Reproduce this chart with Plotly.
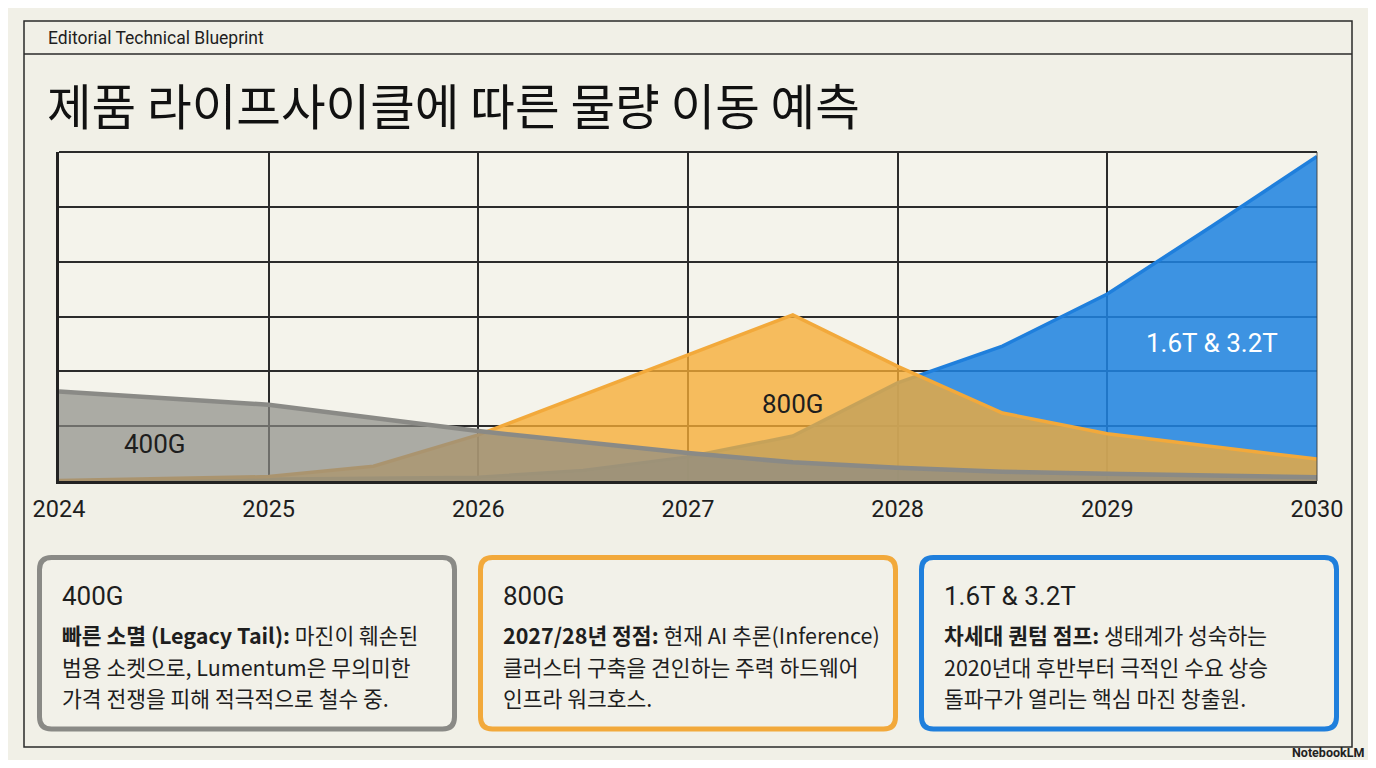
import plotly.graph_objects as go

# the page body has an 8px margin, so the figure is sized to fit inside the window
OFF = 8
W, H = 1376 - 2 * OFF, 768 - 2 * OFF

# ---- data ----
years_tick = [2024, 2025, 2026, 2027, 2028, 2029, 2030]
tick_labels = ["2024", "2025", "2026", "2027", "2028", "2029", "2030"]

x_400g = [2024, 2025, 2025.75, 2026, 2027, 2027.5, 2028, 2028.5, 2029, 2030]
y_400g = [16.3, 13.9, 10.3, 9.1, 5.1, 3.4, 2.4, 1.7, 1.3, 0.7]

x_800g = [2024, 2025, 2025.5, 2026, 2027.5, 2028, 2028.5, 2029, 2030]
y_800g = [0.1, 0.8, 2.7, 8.4, 30.3, 20.9, 12.4, 8.6, 4.0]

x_16t = [2024, 2026, 2026.5, 2027, 2027.5, 2028, 2028.5, 2029, 2029.5, 2030]
y_16t = [0.0, 0.7, 1.9, 4.4, 8.2, 17.9, 24.6, 34.1, 46.5, 59.2]

series_names = ["400G", "800G", "1.6T & 3.2T"]

card_titles = ["400G", "800G", "1.6T & 3.2T"]
card_bold = ["빠른 소멸 (Legacy Tail):", "2027/28년 정점:", "차세대 퀀텀 점프:"]
card_lines = [
    [" 마진이 훼손된", "범용 소켓으로, Lumentum은 무의미한", "가격 전쟁을 피해 적극적으로 철수 중."],
    [" 현재 AI 추론(Inference)", "클러스터 구축을 견인하는 주력 하드웨어", "인프라 워크호스."],
    [" 생태계가 성숙하는", "2020년대 후반부터 극적인 수요 상승", "돌파구가 열리는 핵심 마진 창출원."],
]

FONT = "Roboto, 'Noto Sans CJK KR', sans-serif"
KFONT = "'Noto Sans CJK KR', Roboto, sans-serif"
BG = "#f1f0e7"
INK = "#1e1e1e"
C_GRAY, C_ORANGE, C_BLUE = "#8a8a86", "#f2a93b", "#1f7fdc"


def px(x):
    return (x - OFF) / W


def py(y):
    return 1 - (y - OFF) / H


fig = go.Figure()
fig.add_trace(go.Scatter(x=x_16t, y=y_16t, name=series_names[2], mode="lines",
                         line=dict(color=C_BLUE, width=3.5), fill="tozeroy",
                         fillcolor="rgba(30,130,225,0.86)"))
fig.add_trace(go.Scatter(x=x_800g, y=y_800g, name=series_names[1], mode="lines",
                         line=dict(color=C_ORANGE, width=3.5), fill="tozeroy",
                         fillcolor="rgba(246,172,52,0.78)"))
fig.add_trace(go.Scatter(x=x_400g, y=y_400g, name=series_names[0], mode="lines",
                         line=dict(color=C_GRAY, width=4.5), fill="tozeroy",
                         fillcolor="rgba(140,140,134,0.70)"))

# in-chart labels
fig.add_annotation(x=2024.46, y=6.8, text="400G", showarrow=False,
                   font=dict(family=FONT, size=26, color=INK))
fig.add_annotation(x=2027.5, y=14.1, text="800G", showarrow=False,
                   font=dict(family=FONT, size=26, color=INK))
fig.add_annotation(x=2029.5, y=25.2, text="1.6T & 3.2T", showarrow=False,
                   font=dict(family=FONT, size=26, color="white"))

shapes = []
# outer frame and header rule
shapes.append(dict(type="rect", xref="paper", yref="paper", x0=px(24), x1=px(1352), y0=py(747), y1=py(21),
                   line=dict(color="#2a2a2a", width=1.5), fillcolor="rgba(0,0,0,0)", layer="below"))
shapes.append(dict(type="line", xref="paper", yref="paper", x0=px(24), x1=px(1352), y0=py(54), y1=py(54),
                   line=dict(color="#2a2a2a", width=1.5)))
# top and right edges of the plotting frame
shapes.append(dict(type="line", xref="x domain", yref="y domain", x0=0, x1=1, y0=1, y1=1,
                   line=dict(color="#2b2b2b", width=2)))
shapes.append(dict(type="line", xref="x domain", yref="y domain", x0=1, x1=1, y0=0, y1=1,
                   line=dict(color="rgba(60,60,60,0.6)", width=1.5)))


def rounded(x0, y0, x1, y1, r):
    X0, X1 = px(x0), px(x1)
    Y0, Y1 = py(y0), py(y1)
    rx, ry = r / W, r / H
    return (f"M {X0+rx},{Y0} L {X1-rx},{Y0} Q {X1},{Y0} {X1},{Y0-ry} "
            f"L {X1},{Y1+ry} Q {X1},{Y1} {X1-rx},{Y1} L {X0+rx},{Y1} "
            f"Q {X0},{Y1} {X0},{Y1+ry} L {X0},{Y0-ry} Q {X0},{Y0} {X0+rx},{Y0} Z")


card_x = [37, 478, 919]
card_w = 420
card_colors = [C_GRAY, C_ORANGE, C_BLUE]
for i in range(3):
    x0 = card_x[i] + 2.5
    x1 = card_x[i] + card_w - 2.5
    shapes.append(dict(type="path", xref="paper", yref="paper", path=rounded(x0, 557.5, x1, 729, 12),
                       line=dict(color=card_colors[i], width=5), fillcolor="#f2f1e9"))
    tx = px(card_x[i] + 23)
    fig.add_annotation(xref="paper", yref="paper", x=tx, y=py(596), xanchor="left", yanchor="middle",
                       text=card_titles[i], showarrow=False, font=dict(family=FONT, size=26, color=INK))
    fig.add_annotation(xref="paper", yref="paper", x=tx, y=py(634), xanchor="left", yanchor="middle",
                       text=f"<b>{card_bold[i]}</b>{card_lines[i][0]}", showarrow=False,
                       font=dict(family=KFONT, size=21.5, color=INK))
    for j, ln in enumerate(card_lines[i][1:]):
        fig.add_annotation(xref="paper", yref="paper", x=tx, y=py(666 + 31.5 * j), xanchor="left",
                           yanchor="middle", text=ln, showarrow=False,
                           font=dict(family=KFONT, size=21.5, color=INK))

# header texts
fig.add_annotation(xref="paper", yref="paper", x=px(46), y=py(38), xanchor="left", yanchor="middle",
                   text="Editorial Technical Blueprint", showarrow=False,
                   font=dict(family=FONT, size=17.5, color=INK))
fig.add_annotation(xref="paper", yref="paper", x=px(45), y=py(104), xanchor="left", yanchor="middle",
                   text="제품 라이프사이클에 따른 물량 이동 예측", showarrow=False,
                   font=dict(family=KFONT, size=48.5, color="#111111"))
fig.add_annotation(xref="paper", yref="paper", x=px(1366), y=py(752), xanchor="right", yanchor="middle",
                   text="<b>NotebookLM</b>", showarrow=False,
                   font=dict(family=FONT, size=12.5, color="#222"))

fig.update_layout(
    width=W, height=H,
    margin=dict(l=0, r=0, t=0, b=0, pad=0, autoexpand=False),
    paper_bgcolor=BG, plot_bgcolor="#f4f3eb",
    showlegend=False,
    shapes=shapes,
    xaxis=dict(domain=[px(59), px(1317)], range=[2024, 2030], tickvals=years_tick, ticktext=tick_labels,
               showgrid=True, gridcolor="#2b2b2b", gridwidth=1.5, zeroline=False,
               showline=True, linecolor="#222", linewidth=2.5, mirror=False,
               ticks="", ticklabelstandoff=5, automargin=False,
               tickfont=dict(family=FONT, size=23.5, color=INK), fixedrange=True),
    yaxis=dict(domain=[py(481), py(152)], range=[0, 60], dtick=10, showticklabels=False,
               showgrid=True, gridcolor="#2b2b2b", gridwidth=1.5, zeroline=False,
               showline=True, linecolor="#222", linewidth=2.5, mirror=False, ticks="",
               automargin=False, fixedrange=True),
)

fig.write_html("out.html")
